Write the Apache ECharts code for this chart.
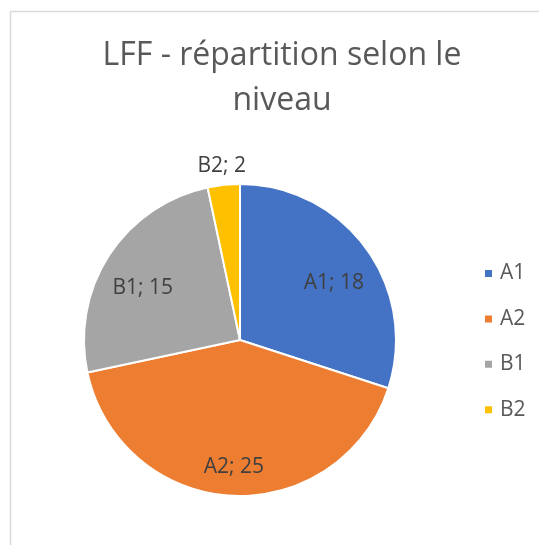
<!DOCTYPE html>
<html>
<head>
<meta charset="utf-8">
<script src="https://cdn.jsdelivr.net/npm/echarts@6/dist/echarts.min.js"></script>
<style>
html,body{margin:0;padding:0;background:#fff;}
#chart{width:539px;height:545px;}
</style>
</head>
<body>
<div id="chart"></div>
<script>
var titleText = 'LFF - répartition selon le\nniveau';
var categories = ['A1', 'A2', 'B1', 'B2'];
var values = [18, 25, 15, 2];
var colors = ['#4472C4', '#ED7D31', '#A5A5A5', '#FFC000'];
var outsideLabelCats = ['B2'];

var FONT = '"Open Sans", "Noto Sans", sans-serif';
var center = [240, 340];
var labelCenter = [240, 351];

var baseData = categories.map(function (c, i) {
  return { name: c, value: values[i], itemStyle: { color: colors[i] } };
});
function labelData(showOutside) {
  return categories.map(function (c, i) {
    var isOut = outsideLabelCats.indexOf(c) >= 0;
    return { name: c, value: values[i], label: { show: showOutside ? isOut : !isOut } };
  });
}
var labelCommon = {
  position: 'inside',
  formatter: function (p) { return p.name + '; ' + p.value; },
  color: '#404040',
  fontFamily: FONT,
  fontSize: 21
};

var chart = echarts.init(document.getElementById('chart'), null, { renderer: 'canvas' });
chart.setOption({
  animation: false,
  backgroundColor: '#ffffff',
  title: {
    text: titleText,
    left: 277,
    textAlign: 'center',
    top: 28,
    textStyle: { color: '#595959', fontFamily: FONT, fontSize: 32, fontWeight: 'normal', lineHeight: 45 }
  },
  legend: {
    orient: 'vertical',
    left: 478,
    top: 258,
    itemWidth: 9,
    itemHeight: 9,
    itemGap: 24.4,
    icon: 'rect',
    data: categories,
    textStyle: { color: '#595959', fontFamily: FONT, fontSize: 21, lineHeight: 20, padding: [0, 0, 0, 2] }
  },
  graphic: [{
    type: 'rect',
    shape: { x: 10.5, y: 11.5, width: 560, height: 560 },
    style: { fill: 'none', stroke: '#d9d9d9', lineWidth: 1.5 },
    silent: true,
    z: -10
  }],
  series: [
    {
      type: 'pie',
      center: center,
      radius: [0, 156],
      startAngle: 90,
      clockwise: true,
      label: { show: false },
      labelLine: { show: false },
      itemStyle: { borderColor: '#ffffff', borderWidth: 2 },
      data: baseData,
      silent: true
    },
    {
      type: 'pie',
      center: labelCenter,
      radius: [70, 156],
      startAngle: 90,
      clockwise: true,
      itemStyle: { color: 'rgba(0,0,0,0)' },
      label: labelCommon,
      labelLine: { show: false },
      data: labelData(false),
      silent: true,
      legendHoverLink: false
    },
    {
      type: 'pie',
      center: center,
      radius: [156, 188],
      startAngle: 90,
      clockwise: true,
      itemStyle: { color: 'rgba(0,0,0,0)' },
      label: labelCommon,
      labelLine: { show: false },
      data: labelData(true),
      silent: true,
      legendHoverLink: false
    }
  ]
});
</script>
</body>
</html>
